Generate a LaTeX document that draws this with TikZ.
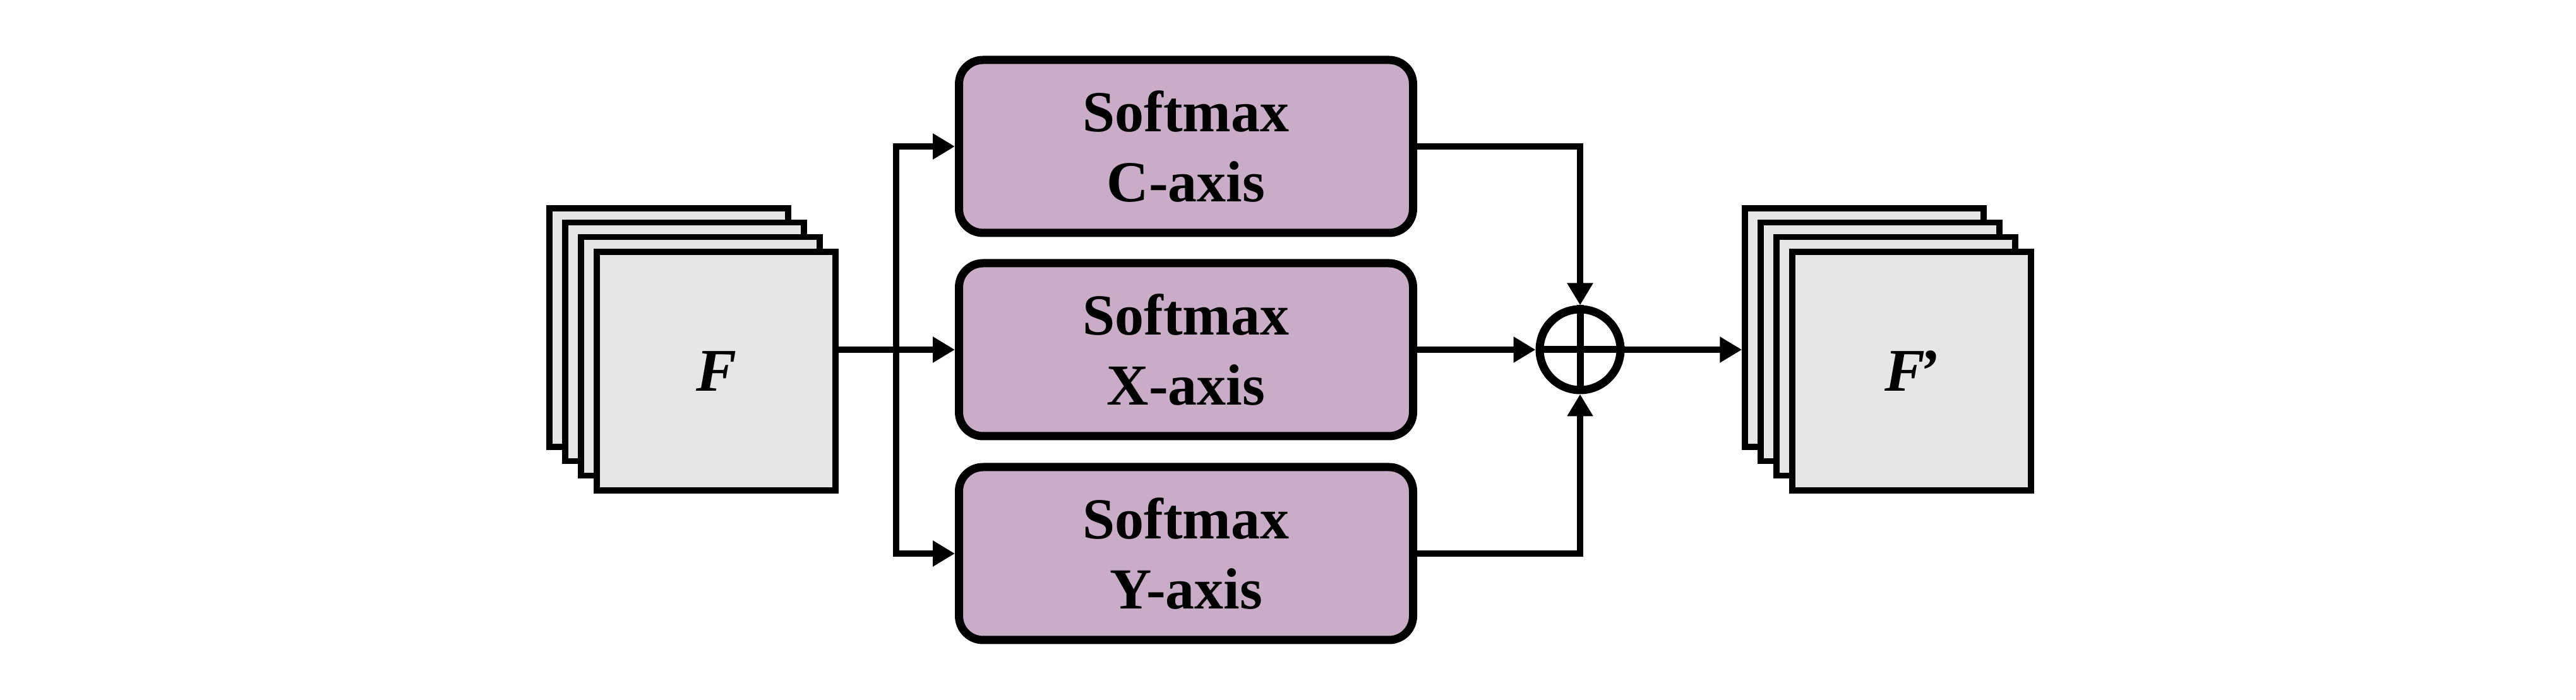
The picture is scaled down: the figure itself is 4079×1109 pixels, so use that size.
\documentclass[tikz,border=0pt]{standalone}
\usepackage{fontspec}
\setmainfont{Liberation Serif}
\usetikzlibrary{arrows.meta,calc}
\definecolor{boxfill}{RGB}{201,172,198}
\definecolor{mapfill}{RGB}{230,230,230}
\begin{document}
\begin{tikzpicture}[x=0.1pt,y=-0.1pt,
  fmap/.style={draw=black, fill=mapfill, line width=0.95pt, minimum width=37.8pt,
    minimum height=37.8pt, inner sep=0pt, font=\fontsize{9.6}{11}\selectfont\bfseries\itshape},
  smbox/.style={draw=black, fill=boxfill, line width=1.3pt, rounded corners=3.8pt,
    minimum width=71.9pt, minimum height=27.4pt, align=center, inner sep=0pt,
    font=\fontsize{9.2}{11.1}\selectfont\bfseries},
  sumnode/.style={circle, draw=black, line width=1.3pt, minimum size=12.8pt, inner sep=0pt},
  conn/.style={line width=1pt, miter limit=10, -{Triangle[length=3.5pt,width=3.9pt]}},
  both/.style={line width=1pt, miter limit=10, {Triangle[length=3.5pt,width=3.9pt]}-{Triangle[length=3.5pt,width=3.9pt]}},
  crossline/.style={line width=1.1pt}]
\fill[white] (0,0) rectangle (4079,1109);
\useasboundingbox (0,0) rectangle (4079,1109);
% input feature maps
\node[fmap] (l1) at (1059,519) {};
\node[fmap] (l2) at (1084,541.7) {};
\node[fmap] (l3) at (1109,564.3) {};
\node[fmap] (l4) at (1134,588) {F};
% output feature maps
\node[fmap] (r1) at (2952,519) {};
\node[fmap] (r2) at (2977,541.7) {};
\node[fmap] (r3) at (3002,564.3) {};
\node[fmap] (r4) at (3027,588) {F\kern-0.12em’};
% softmax boxes
\node[smbox] (bc) at (1878,232) {Softmax\\C-axis};
\node[smbox] (bx) at (1878,554) {Softmax\\X-axis};
\node[smbox] (by) at (1878,877) {Softmax\\Y-axis};
% sum
\node[sumnode] (sum) at (2502,554) {};
\draw[crossline] (sum.north) -- (sum.south);
\draw[crossline] (sum.west) -- (sum.east);
% junction
\coordinate (j) at (1419,554);
\draw[conn] (l4.east |- bx.west) -- (bx.west);
\draw[both] (bc.west) -- (j |- bc.west) -- (j |- by.west) -- (by.west);
% to sum
\draw[conn] (bc.east) -- (sum.north |- bc.east) -- (sum.north);
\draw[conn] (by.east) -- (sum.south |- by.east) -- (sum.south);
\draw[conn] (bx.east) -- (sum.west);
\draw[conn] (sum.east) -- (r1.west |- sum.east);
\end{tikzpicture}
\end{document}
